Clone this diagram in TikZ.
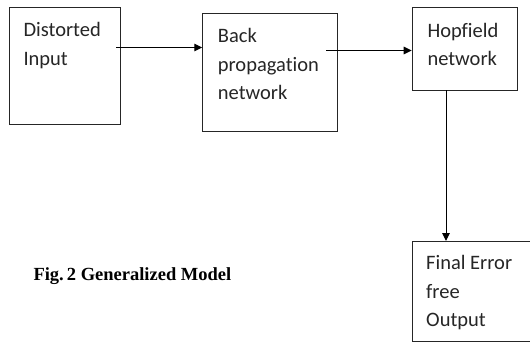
\documentclass[tikz,border=0pt]{standalone}
\usepackage{fontspec}
\setmainfont{Carlito}[Ligatures=NoCommon]
\newfontfamily\capfont{Liberation Serif}
\usetikzlibrary{arrows.meta}
\tikzset{
  blk/.style={draw=black!85, line width=1pt, rectangle, inner sep=0pt, anchor=north west},
  openblk/.style={rectangle, inner sep=0pt, anchor=north west},
  edge3/.style={draw=black!85, line width=1pt},
  txt/.style={inner sep=0pt, anchor=north west, align=left, text=black!85, font=\fontsize{20.5}{28.5}\selectfont},
  arr/.style={line width=1.2pt, -{Triangle[length=8pt,width=7.5pt]}},
}
\begin{document}
\begin{tikzpicture}[x=1pt,y=-1pt]
\fill[white] (0,0) rectangle (530,342);
\useasboundingbox (0,0) rectangle (530,342);
\clip (0,0) rectangle (530,342);
\node[blk, minimum width=110.2pt, minimum height=117.2pt] (b1) at (9.3,7.3) {};
\node[blk, minimum width=134.2pt, minimum height=118.2pt] (b2) at (202.3,13.3) {};
\node[blk, minimum width=104.8pt, minimum height=83.2pt] (b3) at (411.7,7.3) {};
\node[openblk, minimum width=200pt, minimum height=99.7pt] (b4) at (412.3,241) {};
\draw[edge3] (b4.north east) -- (b4.north west) -- (b4.south west) -- (b4.south east);
\node[txt] (t1) at (23.3,22.5) {Distorted\\Input};
\node[txt] (t2) at (217.7,28.5) {Back\\propagation\\network};
\node[txt] (t3) at (427.3,23) {Hopfield\\network};
\node[txt] (t4) at (426,255.5) {Final Error\\free\\Output};
\node[inner sep=0pt, anchor=base west, font=\capfont\bfseries\fontsize{18.5}{22}\selectfont] (cap) at (33.3,280) {Fig.\,2 Generalized Model};
\coordinate (a1s) at (116,47.5);
\coordinate (a2s) at (326,50.5);
\coordinate (a3s) at (446,90.5);
\draw[arr] (a1s) -- (a1s -| b2.west);
\draw[arr] (a2s) -- (a2s -| b3.west);
\draw[arr, line width=1pt] (a3s) -- (a3s |- b4.north);
\end{tikzpicture}
\end{document}
